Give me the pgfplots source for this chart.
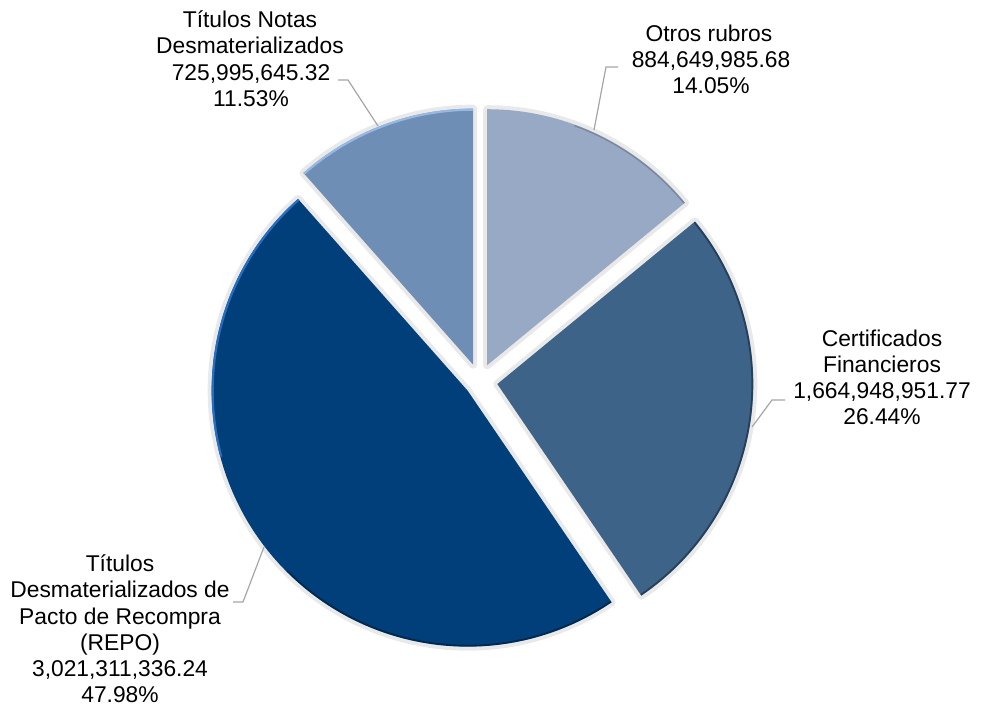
\documentclass[border=0pt]{standalone}
\usepackage{pgfplots}
\pgfplotsset{compat=1.18}
\usepackage{fontspec}
\setmainfont{Liberation Sans}
\definecolor{cOtros}{RGB}{151,169,196}
\definecolor{cNotas}{RGB}{111,142,181}
\definecolor{cCert}{RGB}{61,99,137}
\definecolor{cRepo}{RGB}{0,63,122}
\definecolor{cLead}{RGB}{166,166,166}
\definecolor{cShadow}{RGB}{233,233,233}
\definecolor{cRepoHi}{RGB}{40,110,190}
\definecolor{cNotasHi}{RGB}{150,185,228}
% data: share of each item (percent), clockwise from the top
\def\pOtros{14.05}
\def\pCert{26.44}
\def\pRepo{47.98}
\def\pNotas{11.53}
\pgfmathsetmacro{\aA}{90}
\pgfmathsetmacro{\aB}{\aA-3.6*\pOtros}
\pgfmathsetmacro{\aC}{\aB-3.6*\pCert}
\pgfmathsetmacro{\aD}{\aC-3.6*\pRepo}
\pgfmathsetmacro{\aE}{\aD-3.6*\pNotas}
% #1 start angle, #2 end angle, #3 explode, #4 style
\newcommand{\slice}[4]{%
  \pgfmathsetmacro{\midang}{(#1+#2)/2}%
  \pgfmathsetmacro{\ox}{479.5+#3*cos(\midang)}%
  \pgfmathsetmacro{\oy}{335.5+#3*sin(\midang)}%
  \edef\doslice{\noexpand\addplot[#4,domain=#1:#2,samples=90] ({\ox+256*cos(x)},{\oy+256*sin(x)}) -- (axis cs:\ox,\oy) -- cycle;}%
  \doslice}
% rim along part of the arc: #1 #2 slice angles, #3 explode, #4 #5 rim range, #6 style
\newcommand{\rim}[6]{%
  \pgfmathsetmacro{\midang}{(#1+#2)/2}%
  \pgfmathsetmacro{\ox}{479.5+#3*cos(\midang)}%
  \pgfmathsetmacro{\oy}{335.5+#3*sin(\midang)}%
  \edef\dorim{\noexpand\addplot[#6,domain=#4:#5,samples=60] ({\ox+255*cos(x)},{\oy+255*sin(x)});}%
  \dorim}
\newcommand{\lbl}[3]{\node[anchor=base,inner sep=0pt,font=\fontsize{11.4}{13}\selectfont] at (axis cs:#1,{717-#2}) {#3};}
\begin{document}
\begin{tikzpicture}
\begin{axis}[at={(0,0)},anchor=south west,width=491pt,height=358.5pt,scale only axis,
  xmin=0,xmax=982,ymin=0,ymax=717,hide axis,clip=false]
% soft shadow pass
\slice{\aB}{\aA}{18}{draw=cShadow,line width=4pt,line join=round,fill=cShadow}
\slice{\aC}{\aB}{18}{draw=cShadow,line width=4pt,line join=round,fill=cShadow}
\slice{\aD}{\aC}{15}{draw=cShadow,line width=4pt,line join=round,fill=cShadow}
\slice{\aE}{\aD}{18}{draw=cShadow,line width=4pt,line join=round,fill=cShadow}
% slices
\slice{\aB}{\aA}{18}{draw=none,fill=cOtros}
\slice{\aC}{\aB}{18}{draw=none,fill=cCert}
\slice{\aD}{\aC}{15}{draw=none,fill=cRepo}
\slice{\aE}{\aD}{18}{draw=none,fill=cNotas}
% bevel rims
\rim{\aC}{\aB}{18}{\aC}{\aB}{black,opacity=0.35,line width=0.9pt}
\rim{\aB}{\aA}{18}{\aB}{70}{black,opacity=0.2,line width=0.7pt}
\rim{\aD}{\aC}{15}{-135}{\aC}{black,opacity=0.35,line width=0.9pt}
\rim{\aD}{\aC}{15}{\aD}{-165}{cRepoHi,line width=1.1pt}
\rim{\aE}{\aD}{18}{\aE}{\aD}{cNotasHi,line width=1.1pt}
% leader lines
\addplot[cLead,line width=0.6pt] coordinates {(338,637) (348,637) (378,591)};
\addplot[cLead,line width=0.6pt] coordinates {(618,650) (606,650) (594,587)};
\addplot[cLead,line width=0.6pt] coordinates {(785,317) (772,317) (752,290)};
\addplot[cLead,line width=0.6pt] coordinates {(233,115) (243,115) (264,170)};
% labels
\lbl{250}{28}{Títulos Notas}
\lbl{250}{54}{Desmaterializados}
\lbl{251}{81}{725,995,645.32}
\lbl{251}{107}{11.53\%}
\lbl{709}{42}{Otros rubros}
\lbl{711}{68}{884,649,985.68}
\lbl{711}{94}{14.05\%}
\lbl{882}{347}{Certificados}
\lbl{882}{373}{Financieros}
\lbl{882}{399}{1,664,948,951.77}
\lbl{882}{425}{26.44\%}
\lbl{120}{572}{Títulos}
\lbl{120}{598}{Desmaterializados de}
\lbl{120}{625}{Pacto de Recompra}
\lbl{120}{651}{(REPO)}
\lbl{120}{677}{3,021,311,336.24}
\lbl{120}{703}{47.98\%}
\end{axis}
\pgfresetboundingbox
\path (0,0) rectangle (491pt,358.5pt);
\end{tikzpicture}
\end{document}
